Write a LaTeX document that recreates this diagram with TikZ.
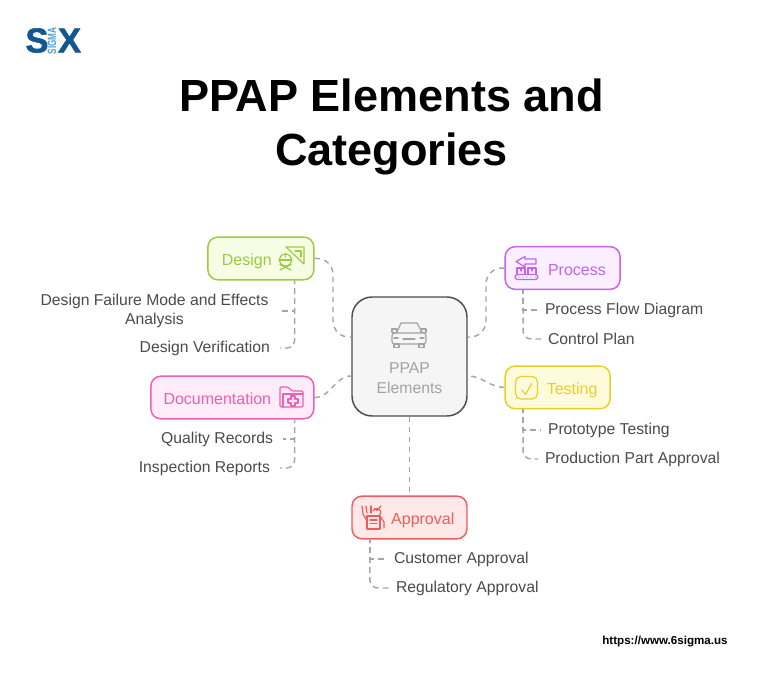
\documentclass[tikz,border=0pt]{standalone}
\usepackage{fontspec}
\setmainfont{Liberation Sans}
\newfontfamily\logofont[FakeBold=1.5]{Liberation Sans Bold}
\usetikzlibrary{positioning}
\definecolor{designline}{HTML}{9CCB3F}
\definecolor{designfill}{HTML}{F6FDE4}
\definecolor{processline}{HTML}{C264EC}
\definecolor{processfill}{HTML}{FAEEFF}
\definecolor{testingline}{HTML}{E8D024}
\definecolor{testingfill}{HTML}{FEFADC}
\definecolor{docsline}{HTML}{EC5FB4}
\definecolor{docsfill}{HTML}{FFECF8}
\definecolor{approvalline}{HTML}{EE5D5D}
\definecolor{approvalfill}{HTML}{FFE8E8}
\definecolor{hubline}{HTML}{4D4D4D}
\definecolor{hubfill}{HTML}{F5F5F5}
\definecolor{hubtext}{HTML}{A3A3A3}
\definecolor{linkgrey}{HTML}{A6A6A6}
\definecolor{leaftext}{HTML}{4A4A4A}
\definecolor{logoblue}{HTML}{12578F}
\definecolor{logolight}{HTML}{4A9FD8}
\tikzset{
  catbox/.style={rectangle, draw, line width=1.1pt, rounded corners=7.5pt, inner xsep=9.5pt, inner ysep=0pt,
    minimum height=32pt, text height=10.5pt, text depth=0pt, font=\fontsize{12}{14.25}\selectfont},
  leaf/.style={inner sep=0pt, outer xsep=7.5pt, outer ysep=0pt, align=center, text=leaftext, font=\fontsize{11.8}{14.25}\selectfont},
  leafright/.style={leaf, outer xsep=5.25pt},
  link/.style={draw=linkgrey, line width=1.1pt, dash pattern=on 4pt off 3.5pt},
  twig/.style={draw=linkgrey, line width=1.1pt, dash pattern=on 4.5pt off 3pt, dash phase=1.8pt},
  icon/.style={line width=.9pt, line join=round, line cap=round}
}
\begin{document}
\begin{tikzpicture}[x=0.75pt, y=-0.75pt]
\useasboundingbox (0,0) rectangle (782,687);

% Logo
\node[inner sep=0pt, text=logoblue, font=\fontsize{26}{26}\logofont] (logos) at (37,40.5) {S};
\node[inner sep=0pt, text=logoblue, font=\fontsize{26}{26}\logofont] (logox) at (69.5,40.5) {X};
\node[inner sep=0pt, text=logolight, rotate=90, xscale=.68, font=\fontsize{9}{9}\selectfont\bfseries] (logosigma) at (52,41) {SIGMA};

% Titulo
\node[inner sep=0pt, align=center, font=\fontsize{33.8}{40.5}\selectfont\bfseries] (title) at (391.5,127) {PPAP Elements and\\Categories};

% Centro
\node[rectangle, draw=hubline, fill=hubfill, line width=1.1pt, rounded corners=15pt, minimum width=86.25pt, minimum height=89.25pt,
  inner sep=0pt, align=center, text=hubtext, font=\fontsize{11.8}{15}\selectfont] (ppap) at (409.5,356.5) {~\\[26pt]PPAP\\Elements};

% Categorias
\node[catbox, draw=designline, fill=designfill, text=designline, text width=60.5pt, align=left, above left=57pt and 27.5pt of ppap.west] (design) {\hspace*{1pt}Design};
\node[catbox, draw=docsline, fill=docsfill, text=docsline, text width=103.25pt, align=left, below left=14.2pt and 27.5pt of ppap.west] (docs) {Documentation};
\node[catbox, draw=processline, fill=processfill, text=processline, text width=67.25pt, align=right, above right=49.8pt and 27.5pt of ppap.east] (process) {Process\hspace*{1.2pt}};
\node[catbox, draw=testingline, fill=testingfill, text=testingline, text width=59.75pt, align=right, below right=6.6pt and 27.5pt of ppap.east] (testing) {Testing};
\node[catbox, draw=approvalline, fill=approvalfill, text=approvalline, text width=67.25pt, align=right, below=59pt of ppap] (approval) {Approval};

% Hojas
\node[leaf, anchor=east] (dfmea) at (278.5,311) {Design Failure Mode and Effects\\Analysis};
\node[leaf, anchor=east] (dverif) at (280,348) {Design Verification};
\node[leaf, anchor=east] (qrec) at (283,439) {Quality Records};
\node[leaf, anchor=east] (insprep) at (280,468) {Inspection Reports};
\node[leafright, anchor=west] (pfd) at (538,310) {Process Flow Diagram};
\node[leafright, anchor=west] (cplan) at (541,339) {Control Plan};
\node[leafright, anchor=west] (proto) at (541,430) {Prototype Testing};
\node[leafright, anchor=west] (ppa) at (538,459) {Production Part Approval};
\node[leafright, anchor=west] (custapp) at (387,559) {Customer Approval};
\node[leafright, anchor=west] (regapp) at (389,588) {Regulatory Approval};

\node[inner sep=0pt, font=\fontsize{8.7}{10}\selectfont\bfseries] (url) at (665,642) {https://www.6sigma.us};

% Conexiones
\coordinate (designbend) at (333,300);
\coordinate (processbend) at (486,300);
\draw[link, rounded corners=12pt] (design.east) -| (designbend) |- ([yshift=14.6pt]ppap.west);
\draw[link, rounded corners=12pt] (process.west) -| (processbend) |- ([yshift=14.6pt]ppap.east);
\draw[link] (docs.east) to[out=0, in=180] ([yshift=-14.6pt]ppap.west);
\draw[link] (testing.west) to[out=180, in=0] ([yshift=-14.6pt]ppap.east);
\draw[link] (ppap) -- (approval);

\draw[twig] ([xshift=-15pt]design.south east) |- (dfmea.east);
\draw[twig, rounded corners=6pt] ([xshift=-15pt]design.south east) |- (dverif.east);
\draw[twig] ([xshift=-15pt]docs.south east) |- (qrec.east);
\draw[twig, rounded corners=6pt] ([xshift=-15pt]docs.south east) |- (insprep.east);
\draw[twig] ([xshift=14pt]process.south west) |- (pfd.west);
\draw[twig, rounded corners=6pt] ([xshift=14pt]process.south west) |- (cplan.west);
\draw[twig] ([xshift=14pt]testing.south west) |- (proto.west);
\draw[twig, rounded corners=6pt] ([xshift=14pt]testing.south west) |- (ppa.west);
\draw[twig] ([xshift=14pt]approval.south west) |- (custapp.west);
\draw[twig, rounded corners=6pt] ([xshift=14pt]approval.south west) |- (regapp.west);

% Iconos
\begin{scope}[icon, draw=hubtext]
  \draw (397,332) -- (401,323) -- (417,323) -- (422,332);
  \draw[rounded corners=2pt] (392,333) rectangle (426,344);
  \draw (392,329) rectangle (397,332.5);
  \draw (421,329) rectangle (426,332.5);
  \draw (394,344) rectangle (399,347.5);
  \draw (419,344) rectangle (424,347.5);
  \draw (403,339) -- (415,339);
  \draw (394,338) -- (398,338);
  \draw (420,338) -- (424,338);
\end{scope}
\begin{scope}[icon, draw=designline]
  \draw (286,247) -- (304,247) -- (304,264) -- cycle;
  \draw (295,251) -- (301,251) -- (301,257);
  \draw (285.5,260) circle (6);
  \draw (279,260) -- (292,260);
  \draw (285.5,254) -- (285.5,257);
  \draw (280,270) -- (291,264.5);
  \draw (280,264.5) -- (291,270);
\end{scope}
\begin{scope}[icon, draw=docsline]
  \draw[rounded corners=1pt] (280,407) -- (280,387) -- (288,387) -- (292,391) -- (303,391) -- (303,407) -- cycle;
  \draw (283,407) -- (283,394) -- (303,394);
  \draw (291,396) -- (295,396) -- (295,399) -- (298,399) -- (298,403) -- (295,403) -- (295,406) -- (291,406) -- (291,403) -- (288,403) -- (288,399) -- (291,399) -- cycle;
\end{scope}
\begin{scope}[icon, draw=processline]
  \draw (516,261.5) -- (525,256.5) -- (525,259) -- (536,259) -- (536,264) -- (525,264) -- (525,267) -- cycle;
  \draw (517,268) rectangle (525,274.5);
  \draw (528,268) rectangle (536,274.5);
  \draw (521,268) -- (521,271);
  \draw (532,268) -- (532,271);
  \draw[rounded corners=2pt] (515,274.5) rectangle (538,279.5);
  \foreach \dotx in {519,523,527,531,535} \fill[processline] (\dotx,277) circle (.5pt);
\end{scope}
\begin{scope}[icon, draw=testingline]
  \draw[rounded corners=4pt] (515.5,376.5) rectangle (537.5,399);
  \draw (521.7,390) -- (525.7,394.3) -- (531.7,383.3);
\end{scope}
\begin{scope}[icon, draw=approvalline]
  \draw (367,516) -- (380,516) -- (380,529) -- (367,529) -- cycle;
  \draw (370,520) -- (377,520);
  \draw (370,523.5) -- (377,523.5);
  \draw (362,506) -- (363,514) -- (367,521);
  \draw (366,506) -- (367,513);
  \draw (371,506) -- (371,513);
  \draw (373,511) arc (200:480:4);
  \draw (375,508.5) -- (377,510.5) -- (381,506);
  \draw (380,516) -- (384,522) -- (384,528);
\end{scope}

\end{tikzpicture}
\end{document}
